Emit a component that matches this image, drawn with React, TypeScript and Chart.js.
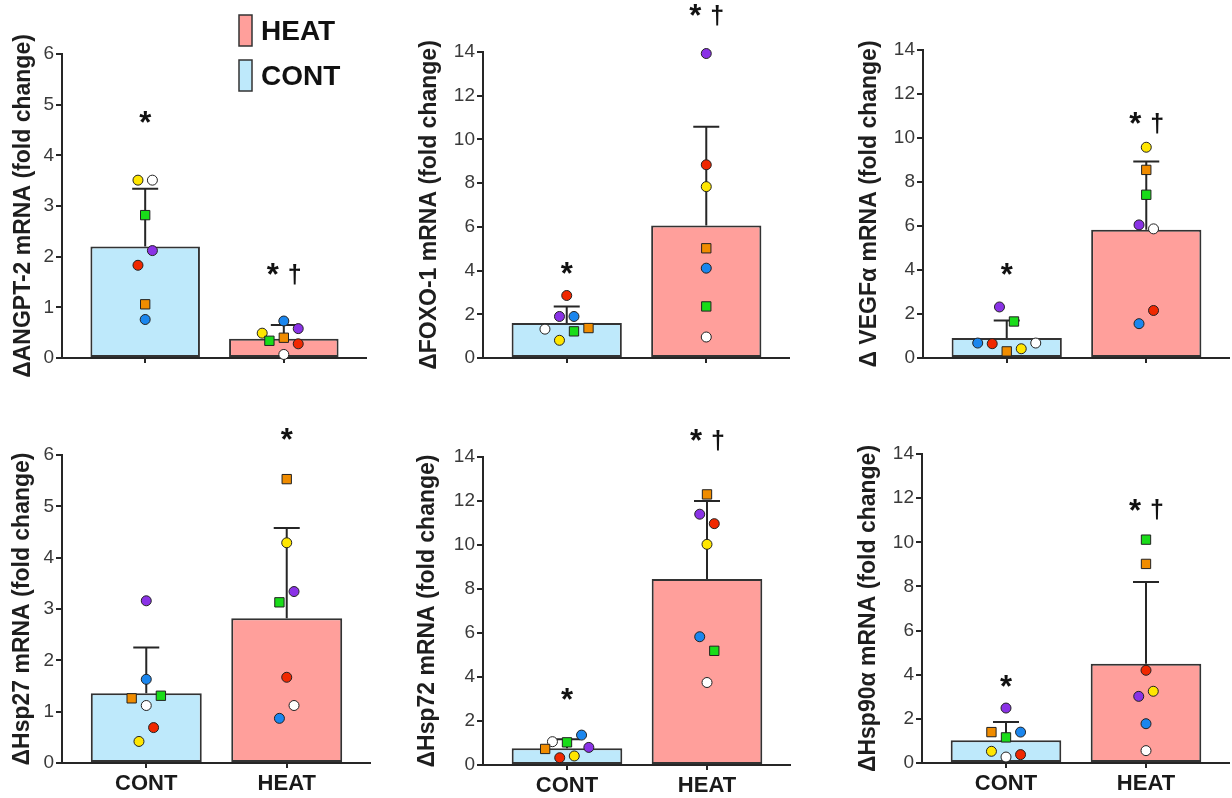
import React, { useEffect, useRef } from 'react';
import { Chart, registerables } from 'chart.js';

Chart.register(...registerables);

const FONT = "'Liberation Sans', Arial, Helvetica, sans-serif";

// ---------- data ----------
const groups = ['CONT', 'HEAT'];
const legendLabels = ['HEAT', 'CONT'];
// subjects: yellow, white, green, red, purple, orange, blue
const subjectColors = ['#FFE600', '#FFFFFF', '#19DC19', '#F02800', '#8A32E6', '#F08C00', '#1A86EE'];
const subjectShapes = ['circle', 'circle', 'rect', 'circle', 'circle', 'rect', 'circle'];

const titles = [
  'ΔANGPT-2 mRNA (fold change)',
  'ΔFOXO-1 mRNA (fold change)',
  'Δ VEGFα mRNA (fold change)',
  'ΔHsp27 mRNA (fold change)',
  'ΔHsp72 mRNA (fold change)',
  'ΔHsp90α mRNA (fold change)',
];
const yMax = [6, 14, 14, 6, 14, 14];
const yStep = [1, 2, 2, 1, 2, 2];

// means [CONT, HEAT] and SD [CONT, HEAT]
const angptMeans = [2.2, 0.38];
const angptSD = [1.14, 0.27];
const foxoMeans = [1.6, 6.06];
const foxoSD = [0.76, 4.52];
const vegfMeans = [0.91, 5.83];
const vegfSD = [0.79, 3.1];
const hsp27Means = [1.36, 2.82];
const hsp27SD = [0.89, 1.76];
const hsp72Means = [0.76, 8.45];
const hsp72SD = [0.41, 3.55];
const hsp90Means = [1.03, 4.5];
const hsp90SD = [0.83, 3.7];

// individual values per subject (yellow, white, green, red, purple, orange, blue)
const angptCont = [3.51, 3.51, 2.82, 1.83, 2.12, 1.06, 0.76];
const angptHeat = [0.49, 0.07, 0.34, 0.28, 0.58, 0.4, 0.73];
const foxoCont = [0.81, 1.32, 1.22, 2.86, 1.9, 1.37, 1.9];
const foxoHeat = [7.84, 0.96, 2.36, 8.84, 13.93, 5.02, 4.11];
const vegfCont = [0.42, 0.68, 1.66, 0.65, 2.32, 0.3, 0.68];
const vegfHeat = [9.58, 5.87, 7.42, 2.16, 6.05, 8.55, 1.56];
const hsp27Cont = [0.42, 1.12, 1.31, 0.69, 3.16, 1.26, 1.63];
const hsp27Heat = [4.29, 1.12, 3.13, 1.67, 3.34, 5.53, 0.87];
const hsp72Cont = [0.41, 1.06, 1.03, 0.33, 0.8, 0.73, 1.36];
const hsp72Heat = [10.03, 3.75, 5.19, 10.97, 11.4, 12.3, 5.83];
const hsp90Cont = [0.53, 0.27, 1.16, 0.38, 2.49, 1.4, 1.4];
const hsp90Heat = [3.25, 0.56, 10.12, 4.2, 3.02, 9.02, 1.78];

// horizontal jitter steps of the dots
const angptContJit = [-1, 1, 0, -1, 1, 0, 0];
const angptHeatJit = [-3, 0, -2, 2, 2, 0, 0];
const foxoContJit = [-1, -3, 1, 0, -1, 3, 1];
const foxoHeatJit = [0, 0, 0, 0, 0, 0, 0];
const vegfContJit = [2, 4, 1, -2, -1, 0, -4];
const vegfHeatJit = [0, 1, 0, 1, -1, 0, -1];
const hsp27ContJit = [-1, 0, 2, 1, 0, -2, 0];
const hsp27HeatJit = [0, 1, -1, 0, 1, 0, -1];
const hsp72ContJit = [1, -2, 0, -1, 3, -3, 2];
const hsp72HeatJit = [0, 0, 1, 1, -1, 0, -1];
const hsp90ContJit = [-2, 0, 0, 2, 0, -2, 2];
const hsp90HeatJit = [1, 0, 0, 0, -1, 0, 0];

// significance marks: height of "*" per group (null = none), dagger per group
const angptStars = [4.75, 1.75];
const foxoStars = [4.11, 15.9];
const vegfStars = [4.04, 10.9];
const hsp27Stars = [null, 6.4];
const hsp72Stars = [3.22, 14.98];
const hsp90Stars = [3.7, 11.7];
const angptDagger = [false, true];
const foxoDagger = [false, true];
const vegfDagger = [false, true];
const hsp27Dagger = [false, false];
const hsp72Dagger = [false, true];
const hsp90Dagger = [false, true];

const panelData = [
  { means: angptMeans, sd: angptSD, cont: angptCont, heat: angptHeat, cj: angptContJit, hj: angptHeatJit, stars: angptStars, dag: angptDagger },
  { means: foxoMeans, sd: foxoSD, cont: foxoCont, heat: foxoHeat, cj: foxoContJit, hj: foxoHeatJit, stars: foxoStars, dag: foxoDagger },
  { means: vegfMeans, sd: vegfSD, cont: vegfCont, heat: vegfHeat, cj: vegfContJit, hj: vegfHeatJit, stars: vegfStars, dag: vegfDagger },
  { means: hsp27Means, sd: hsp27SD, cont: hsp27Cont, heat: hsp27Heat, cj: hsp27ContJit, hj: hsp27HeatJit, stars: hsp27Stars, dag: hsp27Dagger },
  { means: hsp72Means, sd: hsp72SD, cont: hsp72Cont, heat: hsp72Heat, cj: hsp72ContJit, hj: hsp72HeatJit, stars: hsp72Stars, dag: hsp72Dagger },
  { means: hsp90Means, sd: hsp90SD, cont: hsp90Cont, heat: hsp90Heat, cj: hsp90ContJit, hj: hsp90HeatJit, stars: hsp90Stars, dag: hsp90Dagger },
];

// ---------- layout / style ----------
const CONT_FILL = '#BEE9FB';
const HEAT_FILL = '#FF9F9B';
const INK = '#262626';
const JIT = 0.052;

const layouts = [
  { left: 0, top: 0, w: 367, h: 398, yw: 62, padTop: 54, xh: 40, tp: 10, labels: false },
  { left: 410, top: 0, w: 380, h: 398, yw: 73, padTop: 52, xh: 40, tp: 6, labels: false },
  { left: 820, top: 0, w: 410, h: 398, yw: 103, padTop: 50, xh: 40, tp: 36, labels: false },
  { left: 0, top: 400, w: 371, h: 398, yw: 62, padTop: 55, xh: 35, tp: 9, labels: true },
  { left: 410, top: 400, w: 381, h: 398, yw: 73, padTop: 57, xh: 33, tp: 4, labels: true },
  { left: 820, top: 400, w: 410, h: 398, yw: 102, padTop: 54, xh: 35, tp: 35, labels: true },
];

const errorBars = {
  id: 'errorBars',
  afterDatasetDraw(chart: any, args: any, opts: any) {
    if (args.index !== 0) return;
    const ctx = chart.ctx;
    const ys = chart.scales.y;
    const meta = chart.getDatasetMeta(0);
    ctx.save();
    ctx.strokeStyle = INK;
    ctx.lineWidth = 2;
    meta.data.forEach((bar: any, i: number) => {
      const v = chart.data.datasets[0].data[i].y;
      const top = ys.getPixelForValue(v + opts.sd[i]);
      ctx.beginPath();
      ctx.moveTo(bar.x, bar.y);
      ctx.lineTo(bar.x, top);
      ctx.moveTo(bar.x - 13, top);
      ctx.lineTo(bar.x + 13, top);
      ctx.stroke();
    });
    ctx.restore();
  },
};

function drawCentered(ctx: any, text: string, x: number, y: number) {
  const m = ctx.measureText(text);
  const asc = m.actualBoundingBoxAscent;
  const desc = m.actualBoundingBoxDescent;
  ctx.fillText(text, x, y + (asc - desc) / 2);
}

const marks = {
  id: 'marks',
  afterDraw(chart: any, _args: any, opts: any) {
    const ctx = chart.ctx;
    const xs = chart.scales.x;
    const ys = chart.scales.y;
    ctx.save();
    ctx.fillStyle = '#111';
    ctx.textAlign = 'center';
    ctx.textBaseline = 'alphabetic';
    opts.stars.forEach((s: number | null, i: number) => {
      if (s === null) return;
      const x = xs.getPixelForValue(i);
      const y = ys.getPixelForValue(s);
      ctx.font = `bold 31px ${FONT}`;
      if (opts.dag[i]) {
        drawCentered(ctx, '*', x - 11, y);
        ctx.font = `bold 25px ${FONT}`;
        drawCentered(ctx, '†', x + 11, y + 5);
      } else {
        drawCentered(ctx, '*', x, y);
      }
    });
    if (opts.legend) {
      const fills = [HEAT_FILL, CONT_FILL];
      legendLabels.forEach((lab, i) => {
        const by = 15 + i * 45;
        ctx.fillStyle = fills[i];
        ctx.fillRect(239, by, 13, 31);
        ctx.strokeStyle = '#333';
        ctx.lineWidth = 1.5;
        ctx.strokeRect(239, by, 13, 31);
        ctx.fillStyle = '#111';
        ctx.font = `bold 28px ${FONT}`;
        ctx.textAlign = 'left';
        const m = ctx.measureText(lab);
        ctx.fillText(lab, 261, by + 15 + (m.actualBoundingBoxAscent - m.actualBoundingBoxDescent) / 2);
      });
    }
    ctx.restore();
  },
};

function Panel({ idx }: { idx: number }) {
  const ref = useRef<HTMLCanvasElement | null>(null);
  const L = layouts[idx];
  useEffect(() => {
    const d = panelData[idx];
    const points: any[] = [];
    const bg: string[] = [];
    const shapes: string[] = [];
    const radii: number[] = [];
    [d.cont, d.heat].forEach((vals, g) => {
      const jit = g === 0 ? d.cj : d.hj;
      vals.forEach((v, s) => {
        points.push({ x: g + jit[s] * JIT, y: v });
        bg.push(subjectColors[s]);
        shapes.push(subjectShapes[s]);
        radii.push(subjectShapes[s] === 'rect' ? 6.6 : 5);
      });
    });
    const chart = new Chart(ref.current as HTMLCanvasElement, {
      type: 'bar',
      data: {
        datasets: [
          {
            type: 'bar',
            data: d.means.map((m, i) => ({ x: i, y: m })),
            backgroundColor: [CONT_FILL, HEAT_FILL],
            borderColor: '#333',
            borderWidth: 2,
            borderSkipped: false,
            barPercentage: 0.79,
            categoryPercentage: 1,
            order: 2,
          } as any,
          {
            type: 'scatter',
            data: points,
            pointBackgroundColor: bg,
            pointStyle: shapes,
            pointRadius: radii,
            pointBorderColor: '#222',
            pointBorderWidth: 1,
            clip: false,
            order: 1,
          } as any,
        ],
      },
      options: {
        animation: false,
        responsive: true,
        maintainAspectRatio: false,
        layout: { autoPadding: false, padding: { top: L.padTop, left: 0, right: 0, bottom: 0 } },
        plugins: {
          legend: { display: false },
          tooltip: { enabled: false },
          errorBars: { sd: d.sd },
          marks: { stars: d.stars, dag: d.dag, legend: idx === 0 },
        } as any,
        scales: {
          x: {
            type: 'linear',
            min: -0.6,
            max: 1.6,
            offset: false,
            afterBuildTicks: (s: any) => {
              s.ticks = [{ value: 0 }, { value: 1 }];
            },
            afterFit: (s: any) => {
              s.height = L.xh;
            },
            ticks: {
              display: L.labels,
              callback: (v: any) => groups[v] ?? '',
              font: { family: FONT, size: 22, weight: 'bold' },
              color: '#1a1a1a',
              padding: 3,
              maxRotation: 0,
              autoSkip: false,
            },
            grid: { drawOnChartArea: false, drawTicks: true, tickLength: 5, color: INK, lineWidth: 2, offset: false },
            border: { color: INK, width: 2 },
          },
          y: {
            type: 'linear',
            min: 0,
            max: yMax[idx],
            afterFit: (s: any) => {
              s.width = L.yw;
            },
            ticks: {
              stepSize: yStep[idx],
              font: { family: FONT, size: 19 },
              color: '#3a3a3a',
              padding: 2,
            },
            grid: { drawOnChartArea: false, drawTicks: true, tickLength: 6, color: INK, lineWidth: 2 },
            border: { color: INK, width: 2 },
            title: {
              display: true,
              text: titles[idx],
              font: { family: FONT, size: 23, weight: 'bold' },
              color: '#1e1e1e',
              padding: { top: L.tp, bottom: 0 },
            },
          },
        },
      } as any,
      plugins: [errorBars, marks],
    });
    return () => chart.destroy();
  }, [idx]);
  return (
    <div style={{ position: 'absolute', left: L.left, top: L.top, width: L.w, height: L.h }}>
      <canvas ref={ref} />
    </div>
  );
}

export default function App() {
  return (
    <div style={{ position: 'fixed', left: 0, top: 0, width: 1232, height: 798, background: '#fff' }}>
      {[0, 1, 2, 3, 4, 5].map((i) => (
        <Panel key={i} idx={i} />
      ))}
    </div>
  );
}
